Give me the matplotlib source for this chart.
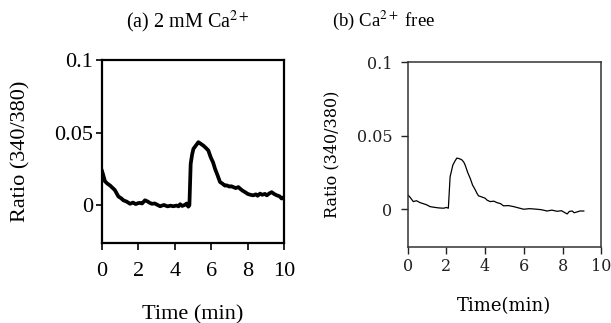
import matplotlib
matplotlib.use("Agg")
import matplotlib.pyplot as plt

# panel (a): 2 mM Ca2+
t_a = [0.0, 0.05, 0.16, 0.3, 0.45, 0.53, 0.7, 0.9, 1.05, 1.17, 1.35, 1.54, 1.7, 1.85, 2.0,
       2.09, 2.2, 2.36, 2.5, 2.6, 2.73, 2.9, 3.05, 3.19, 3.4, 3.6, 3.75, 3.92, 4.1, 4.2,
       4.29, 4.4, 4.56, 4.65, 4.74, 4.8, 4.87, 4.95, 5.02, 5.15, 5.29, 5.4, 5.57, 5.7,
       5.84, 5.97, 6.1, 6.21, 6.35, 6.48, 6.6, 6.75, 6.85, 7.0, 7.1, 7.21, 7.35, 7.49,
       7.6, 7.75, 7.86, 8.0, 8.15, 8.31, 8.45, 8.55, 8.68, 8.8, 8.95, 9.05, 9.2, 9.32,
       9.45, 9.6, 9.75, 9.87, 9.95]
r_a = [0.0235, 0.0215, 0.0165, 0.0148, 0.0135, 0.0125, 0.0105, 0.006, 0.0048, 0.0034,
       0.0025, 0.001, 0.0018, 0.0008, 0.0015, 0.0016, 0.0012, 0.0034, 0.0026, 0.0018,
       0.001, 0.0012, 0.0002, -0.0007, 0.0002, -0.0008, -0.0003, -0.0007, -0.0002,
       -0.0008, 0.0007, -0.0005, 0.0003, 0.0012, -0.001, 0.0, 0.0285, 0.035, 0.0388,
       0.041, 0.0434, 0.0425, 0.041, 0.0395, 0.0377, 0.033, 0.0295, 0.025, 0.0205,
       0.016, 0.015, 0.0135, 0.0137, 0.0128, 0.0131, 0.0125, 0.0118, 0.0125, 0.0112,
       0.0098, 0.009, 0.0078, 0.0072, 0.0068, 0.0075, 0.0065, 0.008, 0.0072, 0.0078,
       0.0068, 0.0082, 0.009, 0.0078, 0.0068, 0.0062, 0.0046, 0.0052]

# panel (b): Ca2+ free
t_b = [0.0, 0.1, 0.29, 0.45, 0.64, 0.8, 0.98, 1.15, 1.33, 1.6, 1.85, 2.0, 2.1, 2.19,
       2.33, 2.45, 2.54, 2.65, 2.8, 2.9, 2.97, 3.1, 3.23, 3.35, 3.49, 3.58, 3.66, 3.8,
       4.0, 4.1, 4.26, 4.45, 4.61, 4.8, 4.95, 5.2, 5.47, 5.7, 5.99, 6.3, 6.68, 6.9,
       7.2, 7.45, 7.72, 7.95, 8.1, 8.24, 8.35, 8.5, 8.6, 8.76, 8.9, 9.1]
r_b = [0.0098, 0.0085, 0.0052, 0.0058, 0.0045, 0.0038, 0.003, 0.0018, 0.0014, 0.0009,
       0.0007, 0.0012, 0.0007, 0.022, 0.030, 0.033, 0.0348, 0.0345, 0.0336, 0.032,
       0.030, 0.025, 0.021, 0.0165, 0.0132, 0.0108, 0.0091, 0.0085, 0.0075, 0.0062,
       0.0052, 0.0055, 0.0045, 0.0038, 0.0023, 0.0025, 0.0018, 0.001, 0.0, 0.0004,
       0.0, -0.0003, -0.0012, -0.0006, -0.0014, -0.001, -0.0022, -0.0032, -0.0015,
       -0.0012, -0.0024, -0.0018, -0.0012, -0.0012]

x_ticks = [0, 2, 4, 6, 8, 10]
y_ticks = [0, 0.05, 0.1]
y_labels = ["0", "0.05", "0.1"]

plt.rcParams['font.family'] = ['Liberation Serif', 'DejaVu Serif']
plt.rcParams['mathtext.fontset'] = 'stix'

fig = plt.figure(figsize=(6.11, 3.23), dpi=100)

ax1 = fig.add_axes([0.167, 0.2477, 0.2979, 0.5666])
ax1.plot(t_a, r_a, color='black', linewidth=2.7)
ax1.set_xlim(0, 10)
ax1.set_ylim(-0.026, 0.1)
ax1.set_xticks(x_ticks)
ax1.set_yticks(y_ticks)
ax1.set_yticklabels(y_labels)
ax1.tick_params(axis='x', direction='out', length=5, width=1.2, labelsize=16, pad=9)
ax1.tick_params(axis='y', direction='out', length=4.5, width=1.2, labelsize=16, pad=2)
for s in ax1.spines.values():
    s.set_linewidth(1.6)
ax1.set_xlabel("Time (min)", fontsize=16, labelpad=17)
ax1.set_ylabel("Ratio (340/380)", fontsize=16, labelpad=17)
fig.text(0.308, 0.932, "(a) 2 mM Ca$^{2+}$", ha='center', va='center', fontsize=14.5)

ax2 = fig.add_axes([0.6673, 0.2362, 0.3167, 0.5709])
ax2.plot(t_b, r_b, color='black', linewidth=0.9)
ax2.set_xlim(0, 10)
ax2.set_ylim(-0.0255, 0.1)
ax2.set_xticks(x_ticks)
ax2.set_yticks(y_ticks)
ax2.set_yticklabels(y_labels, family='DejaVu Serif')
ax2.set_xticklabels([str(v) for v in x_ticks], family='DejaVu Serif')
ax2.tick_params(axis='x', direction='out', length=5, width=1.0, labelsize=11.5, pad=3, colors='#222222')
ax2.tick_params(axis='y', direction='out', length=5, width=1.0, labelsize=11.5, pad=6, colors='#222222')
for s in ax2.spines.values():
    s.set_linewidth(1.1)
    s.set_color('#333333')
ax2.set_xlabel("Time(min)", fontsize=13, labelpad=16, family='DejaVu Serif')
ax2.set_ylabel("Ratio (340/380)", fontsize=11.5, labelpad=12, family='DejaVu Serif')
fig.text(0.543, 0.938, "(b) Ca$^{2+}$ free", ha='left', va='center', fontsize=13.5)

fig.savefig("out.png", dpi=100)
